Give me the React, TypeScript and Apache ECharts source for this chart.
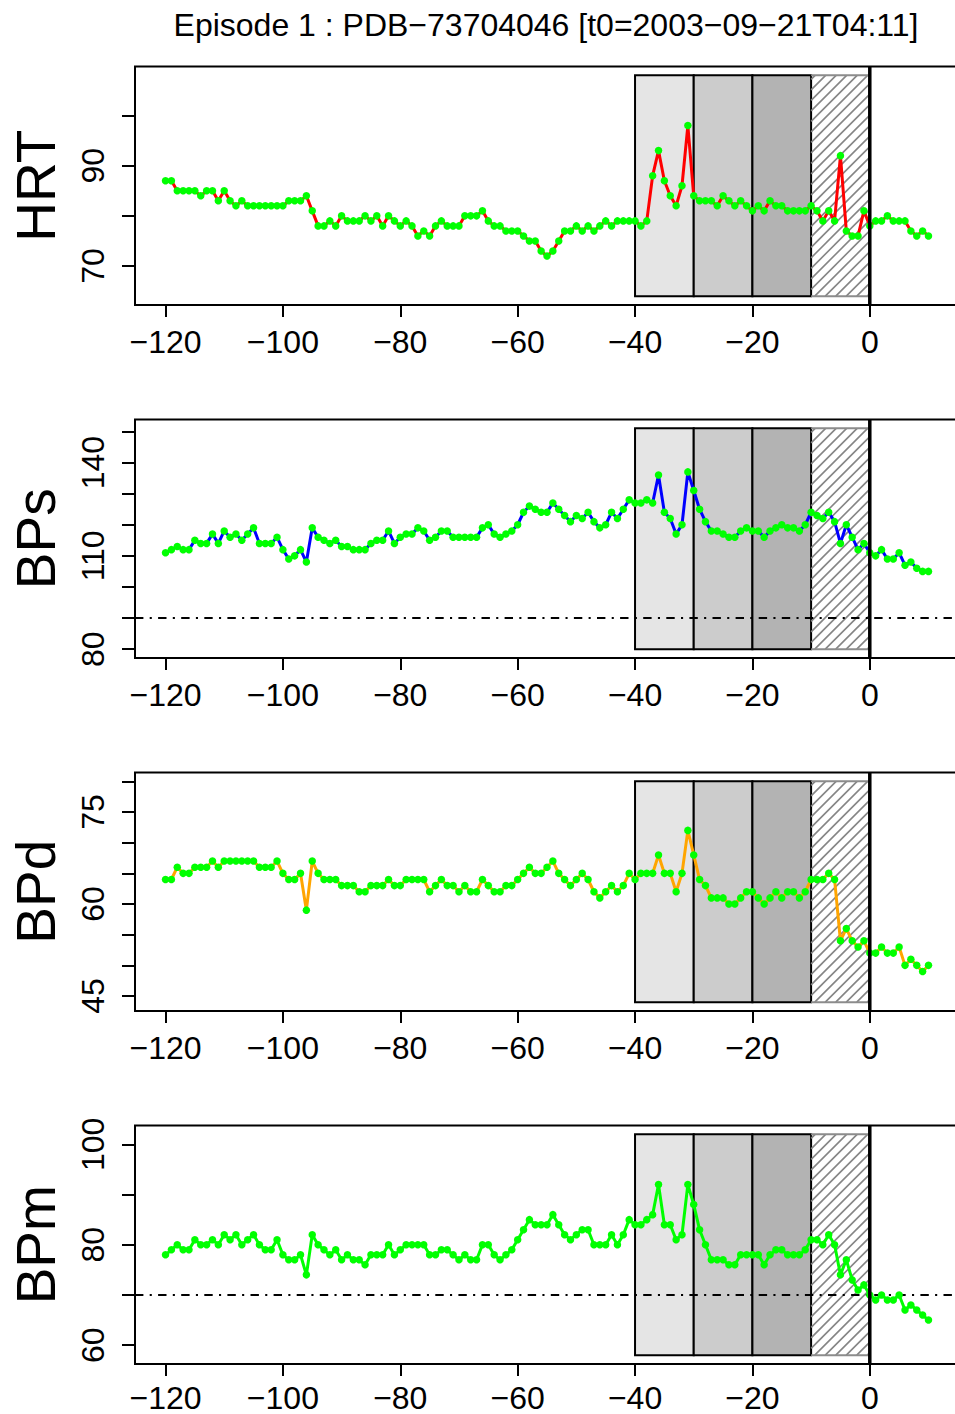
import React, { useEffect, useRef } from "react";
import * as echarts from "echarts";

// Minutes relative to t0, one sample per minute
const minutes: number[] = [];
for (let m = -120; m <= 10; m++) minutes.push(m);

const hrt = [
  87, 87, 85, 85, 85, 85, 84, 85, 85, 83,
  85, 83, 82, 83, 82, 82, 82, 82, 82, 82,
  82, 83, 83, 83, 84, 81, 78, 78, 79, 78,
  80, 79, 79, 79, 80, 79, 80, 78, 80, 79,
  78, 79, 78, 76, 77, 76, 78, 79, 78, 78,
  78, 80, 80, 80, 81, 79, 78, 78, 77, 77,
  77, 76, 75, 75, 73, 72, 73, 75, 77, 77,
  78, 77, 78, 77, 78, 79, 78, 79, 79, 79,
  79, 78, 79, 88, 93, 87, 84, 82, 86, 98,
  84, 83, 83, 83, 82, 84, 83, 82, 83, 82,
  81, 82, 81, 83, 82, 82, 81, 81, 81, 81,
  82, 81, 79, 81, 79, 92, 77, 76, 76, 81,
  78, 79, 79, 80, 79, 79, 79, 77, 76, 77, 76,
];

const bps = [
  111, 112, 113, 112, 112, 115, 114, 114, 117, 114,
  118, 116, 117, 115, 117, 119, 114, 114, 114, 116,
  112, 109, 110, 112, 108, 119, 116, 115, 114, 115,
  113, 113, 112, 112, 112, 114, 115, 115, 118, 114,
  116, 117, 117, 119, 118, 115, 116, 118, 118, 116,
  116, 116, 116, 116, 119, 120, 117, 116, 117, 118,
  120, 124, 126, 125, 124, 124, 127, 125, 123, 121,
  123, 122, 124, 121, 119, 120, 124, 122, 125, 128,
  127, 127, 128, 127, 136, 124, 122, 117, 120, 137,
  131, 125, 121, 118, 118, 117, 116, 116, 118, 119,
  118, 118, 116, 118, 119, 120, 119, 119, 118, 120,
  124, 123, 122, 124, 121, 114, 120, 116, 112, 114,
  111, 110, 112, 109, 109, 111, 107, 108, 106, 105, 105,
];

const bpd = [
  64, 64, 66, 65, 65, 66, 66, 66, 67, 66,
  67, 67, 67, 67, 67, 67, 66, 66, 66, 67,
  65, 64, 64, 65, 59, 67, 65, 64, 64, 64,
  63, 63, 63, 62, 62, 63, 63, 63, 64, 63,
  63, 64, 64, 64, 64, 62, 63, 64, 63, 63,
  62, 63, 62, 62, 64, 63, 62, 62, 63, 63,
  64, 65, 66, 65, 65, 66, 67, 65, 64, 63,
  64, 65, 64, 62, 61, 62, 63, 62, 63, 65,
  64, 65, 65, 65, 68, 65, 65, 62, 65, 72,
  68, 64, 63, 61, 61, 61, 60, 60, 61, 62,
  62, 61, 60, 61, 62, 61, 62, 62, 61, 62,
  64, 64, 64, 65, 64, 54, 56, 54, 53, 54,
  52, 52, 53, 52, 52, 53, 50, 51, 50, 49, 50,
];

const bpm = [
  78, 79, 80, 79, 79, 81, 80, 80, 81, 80,
  82, 81, 82, 80, 81, 82, 80, 79, 79, 81,
  78, 77, 77, 78, 74, 82, 80, 79, 78, 79,
  77, 78, 77, 77, 76, 78, 78, 78, 80, 78,
  79, 80, 80, 80, 80, 78, 78, 79, 79, 78,
  77, 78, 77, 77, 80, 80, 78, 77, 78, 79,
  81, 83, 85, 84, 84, 84, 86, 84, 82, 81,
  82, 83, 83, 80, 80, 80, 82, 80, 82, 85,
  84, 84, 85, 86, 92, 84, 84, 81, 82, 92,
  88, 83, 80, 77, 77, 77, 76, 76, 78, 78,
  78, 78, 76, 78, 79, 79, 78, 78, 78, 79,
  81, 81, 80, 82, 80, 74, 77, 73, 71, 72,
  70, 69, 70, 69, 69, 70, 67, 68, 67, 66, 65,
];

const panelSeries = [hrt, bps, bpd, bpm];
const panelNames = ["HRT", "BPs", "BPd", "BPm"];
const lineColors = ["#ff0000", "#0000ff", "#ffa500", "#00ff00"];
const pointColor = "#00ff00";

// y-axis extents and the band (ylim) used for the phase rectangles
const axisMin = [62.24, 77.16, 42.56, 56.24];
const axisMax = [109.76, 153.84, 81.44, 103.76];
const bandLow = [64, 80, 44, 58];
const bandHigh = [108, 151, 80, 102];

const yTicks = [
  [70, 80, 90, 100],
  [80, 90, 100, 110, 120, 130, 140, 150],
  [45, 50, 55, 60, 65, 70, 75, 80],
  [60, 70, 80, 90, 100],
];
const yLabels = [
  [70, 90],
  [80, 110, 140],
  [45, 60, 75],
  [60, 80, 100],
];
const thresholds: (number | null)[] = [null, 90, null, 70];

const xMin = -125.2;
const xMax = 15.2;
const xTicks = [-120, -100, -80, -60, -40, -20, 0];

// Phases before t0
const phaseStarts = [-40, -30, -20, -10];
const phaseEnds = [-30, -20, -10, 0];
const phaseFills = ["#e5e5e5", "#cccccc", "#b3b3b3", "hatch"];

const titleText = "Episode 1 : PDB\u221273704046 [t0=2003\u221209\u221221T04:11]";

const FONT = "'Liberation Sans', Arial, Helvetica, sans-serif";
const gridTops = [66.5, 419.5, 772.5, 1125.5];
const gridHeight = 238.5;
const gridLeft = 134;
const gridWidth = 825;
// the last panel's tick labels sit a little higher so they stay on the page
const xLabelMargins = [25, 25, 25, 22];

function phaseRenderer(low: number, high: number) {
  return (_params: any, api: any) => {
    const s = api.value(0);
    const e = api.value(1);
    const k = api.value(2);
    const p0 = api.coord([s, high]);
    const p1 = api.coord([e, low]);
    const x0 = p0[0], y0 = p0[1], x1 = p1[0], y1 = p1[1];
    const fill = phaseFills[k];
    if (fill !== "hatch") {
      return {
        type: "rect",
        shape: { x: x0, y: y0, width: x1 - x0, height: y1 - y0 },
        style: { fill, stroke: "#000", lineWidth: 2 },
      };
    }
    // diagonal hatching clipped to the rectangle
    const children: any[] = [];
    const step = 10.5;
    for (let c = x0 + y0 + 4; c < x1 + y1; c += step) {
      const xa = Math.max(x0, c - y1);
      const xb = Math.min(x1, c - y0);
      if (xb > xa) {
        children.push({
          type: "line",
          shape: { x1: xa, y1: c - xa, x2: xb, y2: c - xb },
          style: { stroke: "#858585", lineWidth: 1.6 },
        });
      }
    }
    children.push({
      type: "polyline",
      shape: { points: [[x0, y0], [x1, y0], [x1, y1], [x0, y1]] },
      style: { fill: "none", stroke: "#8c8c8c", lineWidth: 2 },
    });
    return { type: "group", children };
  };
}

const minusFmt = (v: number) => String(v).replace("-", "\u2212");

function buildOption() {
  const grid: any[] = [];
  const xAxis: any[] = [];
  const yAxis: any[] = [];
  const series: any[] = [];

  panelSeries.forEach((values, i) => {
    grid.push({
      left: gridLeft,
      top: gridTops[i],
      width: gridWidth,
      height: gridHeight,
      show: true,
      borderColor: "#000",
      borderWidth: 2,
      backgroundColor: "transparent",
    });
    xAxis.push({
      type: "value",
      gridIndex: i,
      min: xMin,
      max: xMax,
      axisLine: { show: false, onZero: false },
      splitLine: { show: false },
      axisTick: {
        show: true,
        customValues: xTicks,
        length: 12,
        lineStyle: { color: "#000", width: 2 },
      },
      axisLabel: {
        customValues: xTicks,
        fontSize: 32,
        lineHeight: 24,
        fontFamily: FONT,
        color: "#000",
        margin: xLabelMargins[i],
        formatter: minusFmt,
      },
    });
    yAxis.push({
      type: "value",
      gridIndex: i,
      min: axisMin[i],
      max: axisMax[i],
      axisLine: { show: false, onZero: false },
      splitLine: { show: false },
      axisTick: {
        show: true,
        customValues: yTicks[i],
        length: 13,
        lineStyle: { color: "#000", width: 2 },
      },
      axisLabel: {
        customValues: yLabels[i],
        rotate: 90,
        fontSize: 32,
        fontFamily: FONT,
        color: "#000",
        margin: 26,
      },
      name: panelNames[i],
      nameLocation: "middle",
      nameRotate: 90,
      nameGap: 72,
      nameTextStyle: { fontSize: 55, fontFamily: FONT, color: "#000" },
    });

    series.push({
      type: "custom",
      xAxisIndex: i,
      yAxisIndex: i,
      z: 1,
      silent: true,
      renderItem: phaseRenderer(bandLow[i], bandHigh[i]),
      data: phaseStarts.map((s, k) => [s, phaseEnds[k], k]),
    });

    const t = thresholds[i];
    if (t !== null) {
      series.push({
        type: "line",
        xAxisIndex: i,
        yAxisIndex: i,
        z: 2,
        silent: true,
        symbol: "none",
        data: [[xMin, t], [xMax, t]],
        lineStyle: { color: "#000", width: 2, type: [8.4, 6.3, 2.1, 6.3] },
      });
    }

    series.push({
      type: "line",
      name: panelNames[i],
      xAxisIndex: i,
      yAxisIndex: i,
      z: 3,
      silent: true,
      symbol: "circle",
      symbolSize: 7.5,
      showSymbol: true,
      data: values.map((v, k) => [minutes[k], v]),
      lineStyle: { color: lineColors[i], width: 3 },
      itemStyle: { color: pointColor, borderWidth: 0 },
      emphasis: { disabled: true },
    });

    // t0 marker
    series.push({
      type: "line",
      xAxisIndex: i,
      yAxisIndex: i,
      z: 4,
      silent: true,
      symbol: "none",
      data: [[0, axisMin[i]], [0, axisMax[i]]],
      lineStyle: { color: "#000", width: 3.5 },
    });
  });

  return {
    animation: false,
    backgroundColor: "#ffffff",
    grid,
    xAxis,
    yAxis,
    series,
    graphic: [
      {
        type: "text",
        x: 546,
        y: 24.5,
        style: {
          text: titleText,
          fontSize: 32,
          fontFamily: FONT,
          fill: "#000",
          textAlign: "center",
          textVerticalAlign: "middle",
        },
      },
    ],
  };
}

export default function App() {
  const ref = useRef<HTMLDivElement>(null);
  useEffect(() => {
    if (!ref.current) return;
    const chart = echarts.init(ref.current, undefined, { renderer: "svg" });
    chart.setOption(buildOption() as any);
    return () => chart.dispose();
  }, []);
  return (
    <div
      style={{
        position: "absolute",
        left: 0,
        top: 0,
        width: 955,
        height: 1414,
        overflow: "hidden",
        background: "#fff",
      }}
    >
      <div ref={ref} style={{ width: 962, height: 1414 }} />
    </div>
  );
}
